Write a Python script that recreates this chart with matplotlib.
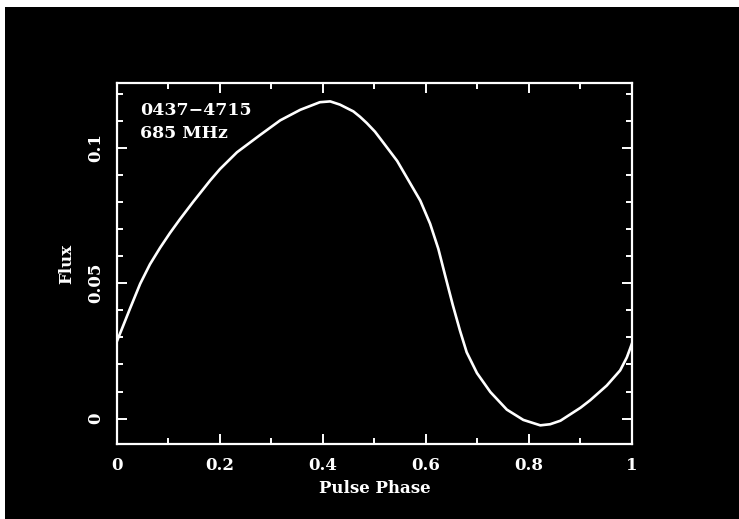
import matplotlib
matplotlib.use('Agg')
import matplotlib.pyplot as plt
from matplotlib.ticker import MultipleLocator
from matplotlib.patches import Rectangle

# Integrated pulse profile of PSR J0437-4715 at 685 MHz
phase = [0.0, 0.012, 0.025, 0.045, 0.064, 0.084, 0.103, 0.122, 0.148, 0.181,
         0.200, 0.233, 0.278, 0.317, 0.356, 0.394, 0.414, 0.433, 0.459, 0.472,
         0.485, 0.501, 0.517, 0.544, 0.563, 0.589, 0.608, 0.624, 0.637, 0.652,
         0.666, 0.679, 0.699, 0.725, 0.757, 0.789, 0.822, 0.841, 0.861, 0.900,
         0.919, 0.951, 0.977, 0.990, 0.997, 1.0]
flux = [0.0286, 0.0343, 0.0405, 0.0498, 0.0570, 0.0632, 0.0686, 0.0736, 0.0801, 0.0880,
        0.0922, 0.0984, 0.1048, 0.1102, 0.1141, 0.1169, 0.1172, 0.1160, 0.1135, 0.1115,
        0.1092, 0.1060, 0.1020, 0.0952, 0.0890, 0.0805, 0.0720, 0.0627, 0.0530, 0.0420,
        0.0325, 0.0245, 0.0168, 0.0098, 0.0033, -0.0005, -0.0025, -0.0021, -0.0008, 0.0040,
        0.0068, 0.0122, 0.0178, 0.0226, 0.0262, 0.0278]

xticks = [0, 0.2, 0.4, 0.6, 0.8, 1]
xtick_labels = ['0', '0.2', '0.4', '0.6', '0.8', '1']
yticks = [0, 0.05, 0.1]
ytick_labels = ['0', '0.05', '0.1']

font = 'DejaVu Serif'
fg = 'white'

fig = plt.figure(figsize=(7.39, 5.19), dpi=100, facecolor='black')
# thin white margin along the top and left edges
fig.patches.append(Rectangle((0, 1 - 7/519), 1, 7/519, transform=fig.transFigure,
                             facecolor='white', edgecolor='none'))
fig.patches.append(Rectangle((0, 0), 5/739, 1, transform=fig.transFigure,
                             facecolor='white', edgecolor='none'))

ax = fig.add_axes([0.1583, 0.1445, 0.6969, 0.6956], facecolor='black')
ax.plot(phase, flux, color=fg, lw=1.9)

ax.set_xlim(0, 1)
ax.set_ylim(-0.0094, 0.124)

ax.xaxis.set_major_locator(MultipleLocator(0.2))
ax.xaxis.set_minor_locator(MultipleLocator(0.1))
ax.yaxis.set_major_locator(MultipleLocator(0.05))
ax.yaxis.set_minor_locator(MultipleLocator(0.01))
ax.set_xticks(xticks)
ax.set_xticklabels(xtick_labels)
ax.set_yticks(yticks)
ax.set_yticklabels(ytick_labels, rotation=90, va='center')

for s in ax.spines.values():
    s.set_color(fg)
    s.set_linewidth(1.6)
ax.tick_params(which='both', direction='in', top=True, right=True, colors=fg, width=1.4)
ax.tick_params(which='major', length=7)
ax.tick_params(which='minor', length=4)
ax.tick_params(axis='x', pad=9)
ax.tick_params(axis='y', pad=9)
for lab in ax.get_xticklabels() + ax.get_yticklabels():
    lab.set_fontfamily(font)
    lab.set_fontweight('bold')
    lab.set_fontsize(12)
    lab.set_color(fg)

ax.set_xlabel('Pulse Phase', fontfamily=font, fontweight='bold', fontsize=12,
              color=fg, labelpad=5)
ax.set_ylabel('Flux', fontfamily=font, fontweight='bold', fontsize=12,
              color=fg, labelpad=9)

ax.text(0.045, 0.925, '0437\u22124715', transform=ax.transAxes, fontfamily=font,
        fontweight='bold', fontsize=12.5, color=fg, va='center')
ax.text(0.045, 0.86, '685 MHz', transform=ax.transAxes, fontfamily=font,
        fontweight='bold', fontsize=12.5, color=fg, va='center')

fig.savefig('out.png', dpi=100, facecolor='black')
